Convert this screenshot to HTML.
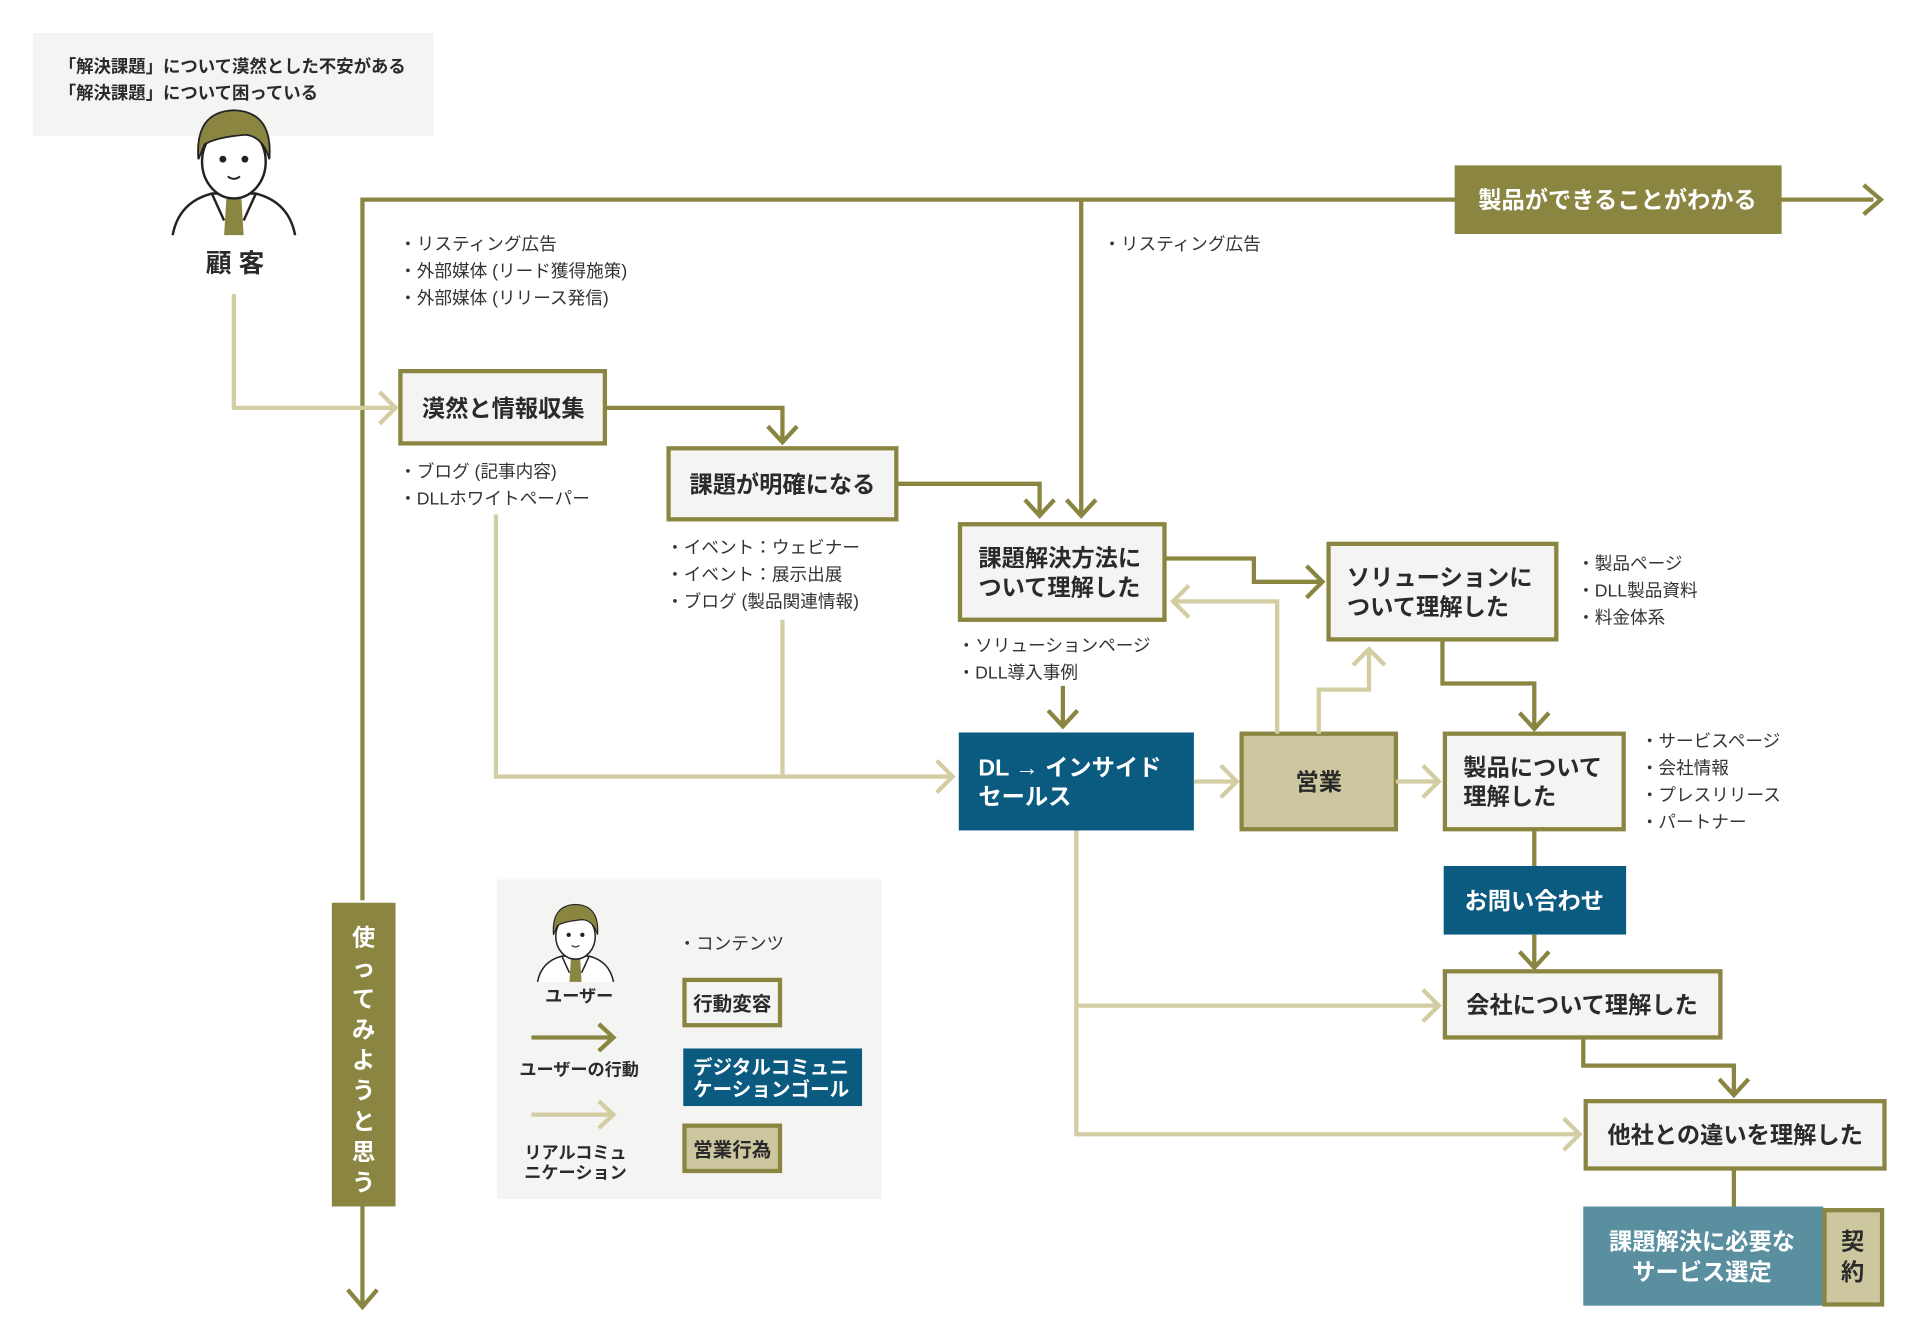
<!DOCTYPE html>
<html><head><meta charset="utf-8"><style>
html,body{margin:0;padding:0;background:#fff;}
svg{display:block;}
text{font-family:"Liberation Sans","Noto Sans CJK JP",sans-serif;}
.b{font-weight:bold;fill:#2a2a2a;font-size:19px;}
.s{font-size:14.4px;fill:#333;}
.w{font-weight:bold;fill:#fff;font-size:19px;}
.d{fill:none;stroke:#8a8642;stroke-width:3.5;}
.l{fill:none;stroke:#d3cda4;stroke-width:3.5;}
.bx{fill:#f4f4f2;stroke:#8a8642;stroke-width:3.5;}
.sd{fill:#cdc7a0;stroke:#8a8642;stroke-width:3.5;}
</style></head><body>
<svg width="1920" height="1340" viewBox="0 0 1568 1094" preserveAspectRatio="none" xmlns="http://www.w3.org/2000/svg">
<defs>
<g id="p">
<path d="M-50 72 Q-45 45 -18 38 L18 38 Q45 45 50 72" fill="#fff" stroke="#222" stroke-width="2"/>
<path d="M-6 40 L6 40 L8 72 L-8 72 Z" fill="#8a8642"/>
<path d="M-18 38 L-8 60 M18 38 L8 60" stroke="#222" stroke-width="2" fill="none"/>
<ellipse cx="0" cy="12" rx="26" ry="30" fill="#fff" stroke="#222" stroke-width="2"/>
<path d="M-29 10 Q-32 -29 0 -30 Q32 -29 29 10 Q24 -8 10 -10 Q-15 -8 -24 -2 Z" fill="#8a8642" stroke="#222" stroke-width="1.5"/>
<circle cx="-9" cy="10" r="2.8" fill="#222"/><circle cx="9" cy="10" r="2.8" fill="#222"/>
<path d="M-5 24 Q0 28 5 24" stroke="#222" stroke-width="1.6" fill="none"/>
</g>
</defs>

<rect x="27" y="27" width="327" height="84" fill="#f4f4f2"/>
<text x="48" y="59" style="font-weight:bold;font-size:14.2px;fill:#2a2a2a">「解決課題」について漠然とした不安がある</text>
<text x="48" y="81" style="font-weight:bold;font-size:14.2px;fill:#2a2a2a">「解決課題」について困っている</text>
<use href="#p" transform="translate(191,120)"/>
<text x="192" y="222" text-anchor="middle" class="b" style="font-size:21px">顧 客</text>

<path class="d" d="M296 735 V163 H1530"/>
<path class="d" d="M1522 151 L1536 163 L1522 175"/>
<path class="d" d="M296 985 V1065 M284 1053 L296 1067 L308 1053"/>
<path class="d" d="M883 163 V420 M871 408 L883 421 L895 408"/>
<rect x="1188" y="135" width="267" height="56" fill="#8a8642"/>
<text x="1321" y="170" text-anchor="middle" class="w">製品ができることがわかる</text>
<rect x="271" y="737" width="52" height="248" fill="#8a8642"/>
<text x="297" y="772" class="w" text-anchor="middle">使</text>
<text x="297" y="797" class="w" text-anchor="middle">っ</text>
<text x="297" y="822" class="w" text-anchor="middle">て</text>
<text x="297" y="847" class="w" text-anchor="middle">み</text>
<text x="297" y="872" class="w" text-anchor="middle">よ</text>
<text x="297" y="897" class="w" text-anchor="middle">う</text>
<text x="297" y="922" class="w" text-anchor="middle">と</text>
<text x="297" y="947" class="w" text-anchor="middle">思</text>
<text x="297" y="972" class="w" text-anchor="middle">う</text>

<text x="326" y="204" class="s">・リスティング広告</text>
<text x="326" y="226" class="s">・外部媒体 (リード獲得施策)</text>
<text x="326" y="248" class="s">・外部媒体 (リリース発信)</text>
<text x="901" y="204" class="s">・リスティング広告</text>

<path class="l" d="M191 240 V333 H322 M310 320 L323 333 L310 346"/>
<rect class="bx" x="327" y="303" width="167" height="59"/>
<text x="411" y="340" text-anchor="middle" class="b">漠然と情報収集</text>
<path class="d" d="M494 333 H639 V360 M627 348 L639 361 L651 348"/>
<text x="326" y="390" class="s">・ブログ (記事内容)</text>
<text x="326" y="412" class="s">・DLLホワイトペーパー</text>

<rect class="bx" x="546" y="366" width="186" height="58"/>
<text x="639" y="402" text-anchor="middle" class="b">課題が明確になる</text>
<path class="d" d="M732 395 H849 V420 M837 408 L849 421 L861 408"/>
<text x="544" y="452" class="s">・イベント：ウェビナー</text>
<text x="544" y="474" class="s">・イベント：展示出展</text>
<text x="544" y="496" class="s">・ブログ (製品関連情報)</text>

<rect class="bx" x="784" y="428" width="167" height="78"/>
<text x="799" y="462" class="b">課題解決方法に</text>
<text x="799" y="486" class="b">ついて理解した</text>
<path class="d" d="M951 456 H1024 V475 H1080 M1067 462 L1080 475 L1067 488"/>
<rect class="bx" x="1085" y="444" width="186" height="78"/>
<text x="1100" y="478" class="b">ソリューションに</text>
<text x="1100" y="502" class="b">ついて理解した</text>
<text x="1288" y="465" class="s">・製品ページ</text>
<text x="1288" y="487" class="s">・DLL製品資料</text>
<text x="1288" y="509" class="s">・料金体系</text>

<text x="782" y="532" class="s">・ソリューションページ</text>
<text x="782" y="554" class="s">・DLL導入事例</text>
<path class="d" d="M868 560 V592 M856 580 L868 593 L880 580"/>

<path class="l" d="M405 420 V634 H778 M639 506 V634 M765 621 L778 634 L765 647"/>
<rect x="783" y="598" width="192" height="80" fill="#0b5a80"/>
<text x="799" y="633" class="w">DL → インサイド</text>
<text x="799" y="657" class="w">セールス</text>
<path class="l" d="M975 638 H1010 M997 625 L1010 638 L997 651"/>
<rect class="sd" x="1014" y="599" width="126" height="78"/>
<text x="1077" y="645" text-anchor="middle" class="b">営業</text>
<path class="l" d="M1140 638 H1175 M1162 625 L1175 638 L1162 651"/>
<path class="l" d="M1043 599 V491 H958 M971 478 L958 491 L971 504"/>
<path class="l" d="M1077 599 V563 H1118 V530 M1105 543 L1118 530 L1131 543"/>

<rect class="bx" x="1180" y="599" width="146" height="78"/>
<text x="1195" y="633" class="b">製品について</text>
<text x="1195" y="657" class="b">理解した</text>
<path class="d" d="M1178 522 V558 H1253 V594 M1241 582 L1253 595 L1265 582"/>
<text x="1340" y="610" class="s">・サービスページ</text>
<text x="1340" y="632" class="s">・会社情報</text>
<text x="1340" y="654" class="s">・プレスリリース</text>
<text x="1340" y="676" class="s">・パートナー</text>

<path class="d" d="M1253 677 V707"/>
<rect x="1179" y="707" width="149" height="56" fill="#0b5a80"/>
<text x="1253" y="742" text-anchor="middle" class="w">お問い合わせ</text>
<path class="d" d="M1253 763 V789 M1241 777 L1253 790 L1265 777"/>
<rect class="bx" x="1180" y="793" width="225" height="54"/>
<text x="1292" y="827" text-anchor="middle" class="b">会社について理解した</text>

<path class="l" d="M879 678 V926 H1290 M879 821 H1175 M1162 808 L1175 821 L1162 834 M1277 913 L1290 926 L1277 939"/>
<path class="d" d="M1293 847 V870 H1416 V893 M1404 881 L1416 894 L1428 881"/>
<rect class="bx" x="1295" y="899" width="244" height="55"/>
<text x="1417" y="933" text-anchor="middle" class="b">他社との違いを理解した</text>
<path class="d" d="M1416 954 V985"/>
<rect x="1293" y="985" width="196" height="81" fill="#5a8fa0"/>
<text x="1390" y="1020" text-anchor="middle" class="w">課題解決に必要な</text>
<text x="1390" y="1045" text-anchor="middle" class="w">サービス選定</text>
<rect class="sd" x="1490" y="988" width="47" height="77"/>
<text x="1513" y="1020" text-anchor="middle" class="b">契</text>
<text x="1513" y="1045" text-anchor="middle" class="b">約</text>

<rect x="406" y="718" width="314" height="261" fill="#f4f4f2"/>
<use href="#p" transform="translate(470,757) scale(0.62)"/>
<text x="473" y="818" text-anchor="middle" class="b" style="font-size:14px">ユーザー</text>
<path class="d" d="M434 847 H500 M489 836 L501 847 L489 858"/>
<text x="473" y="878" text-anchor="middle" class="b" style="font-size:14px">ユーザーの行動</text>
<path class="l" d="M434 910 H500 M489 899 L501 910 L489 921"/>
<text x="470" y="946" text-anchor="middle" class="b" style="font-size:14px">リアルコミュ</text>
<text x="470" y="962" text-anchor="middle" class="b" style="font-size:14px">ニケーション</text>
<text x="554" y="775" class="s">・コンテンツ</text>
<rect class="bx" x="559" y="800" width="78" height="37"/>
<text x="598" y="825" text-anchor="middle" class="b" style="font-size:16px">行動変容</text>
<rect x="558" y="856" width="146" height="47" fill="#0b5a80"/>
<text x="566" y="877" class="w" style="font-size:16px">デジタルコミュニ</text>
<text x="566" y="895" class="w" style="font-size:16px">ケーションゴール</text>
<rect class="sd" x="559" y="919" width="78" height="37"/>
<text x="598" y="944" text-anchor="middle" class="b" style="font-size:16px">営業行為</text>
</svg>
</body></html>
